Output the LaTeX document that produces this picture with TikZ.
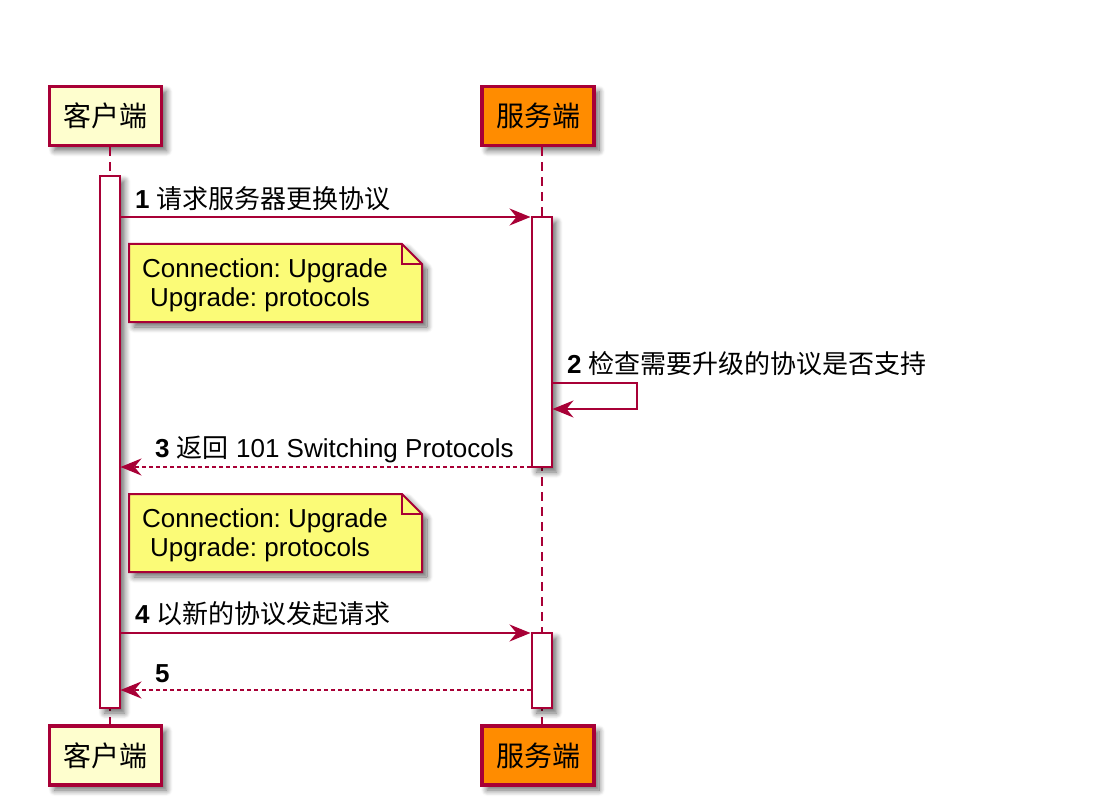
\documentclass[tikz,border=0pt]{standalone}
\usepackage{fontspec}
\setmainfont{Liberation Sans}
\newfontfamily\cjk{Noto Sans CJK SC}
\usetikzlibrary{arrows.meta,shadows.blur}
\frenchspacing
\definecolor{umlred}{HTML}{A80036}
\definecolor{cfill}{HTML}{FEFECE}
\definecolor{sfill}{HTML}{FF8C00}
\definecolor{notefill}{HTML}{FBFB77}
\tikzset{
  shd/.style={blur shadow={shadow xshift=5pt, shadow yshift=-5pt, shadow blur radius=6pt, shadow blur steps=10, shadow opacity=60}},
  part/.style={draw=umlred, line width=3.2pt, minimum width=112, minimum height=59, inner sep=0pt, shd,
    font=\cjk\fontsize{28}{32}\selectfont},
  actbar/.style={draw=umlred, fill=white, line width=2pt, minimum width=20, inner sep=0pt, shd},
  lifeline/.style={draw=umlred, line width=2pt, dash pattern=on 9pt off 6pt},
  msg/.style={draw=umlred, line width=2pt, -{Stealth[length=21pt,width=17pt,inset=7pt]}},
  ret/.style={msg, dash pattern=on 4pt off 3pt},
  lbl/.style={anchor=base west, inner sep=0pt, font=\fontsize{26}{30}\selectfont},
  notebox/.style={draw=umlred, fill=notefill, line width=2pt, shd},
  notefold/.style={draw=umlred, line width=2pt},
  notetxt/.style={anchor=base west, inner sep=0pt, font=\fontsize{26}{30}\selectfont}
}
\begin{document}
\begin{tikzpicture}[x=1pt,y=-1pt]
\useasboundingbox (0,0) rectangle (1094,810);
% participants
\node[part, fill=cfill] (ctop) at (105.5,116) {客户端};
\node[part, fill=sfill] (stop) at (538,116) {服务端};
\node[part, fill=cfill] (cbot) at (105.5,755.5) {客户端};
\node[part, fill=sfill] (sbot) at (538,755.5) {服务端};
% lifelines
\draw[lifeline] ([xshift=4.5pt]ctop.south) -- ([xshift=4.5pt]cbot.north);
\draw[lifeline] ([xshift=3.5pt]stop.south) -- ([xshift=3.5pt]sbot.north);
% activation bars
\node[actbar, minimum height=532] (cact) at (109.5,442) {};
\node[actbar, minimum height=250] (sact1) at (541.5,342) {};
\node[actbar, minimum height=75] (sact2) at (541.5,670.5) {};
% message y positions
\coordinate (y1) at (0,217);
\coordinate (y2a) at (0,383);
\coordinate (y2b) at (0,409);
\coordinate (y3) at (0,467);
\coordinate (y4) at (0,633);
\coordinate (y5) at (0,690);
% messages
\draw[msg] (cact.east |- y1) -- (sact1.west |- y1);
\node[lbl] (l1) at (135,209) {\textbf{1} {\cjk 请求服务器更换协议}};
\draw[msg] (sact1.east |- y2a) -- ++(84,0) -- ++(0,26) -- (sact1.east |- y2b);
\node[lbl] (l2) at (567,373) {\textbf{2} {\cjk 检查需要升级的协议是否支持}};
\draw[ret] (sact1.west |- y3) -- (cact.east |- y3);
\node[lbl] (l3) at (155,457) {\textbf{3} {\cjk 返回} 101 Switching Protocols};
\draw[msg] (cact.east |- y4) -- (sact2.west |- y4);
\node[lbl] (l4) at (135,623) {\textbf{4} {\cjk 以新的协议发起请求}};
\draw[ret] (sact2.west |- y5) -- (cact.east |- y5);
\node[lbl] (l5) at (155,682) {\textbf{5}};
% note 1
\draw[notebox] (129,244) -- (402,244) -- (422,264) -- (422,322) -- (129,322) -- cycle;
\draw[notefold] (402,244) -- (402,264) -- (422,264);
\node[notetxt] (n1a) at (142,277) {Connection: Upgrade};
\node[notetxt] (n1b) at (150,306) {Upgrade: protocols};
% note 2
\draw[notebox] (129,494) -- (402,494) -- (422,514) -- (422,572) -- (129,572) -- cycle;
\draw[notefold] (402,494) -- (402,514) -- (422,514);
\node[notetxt] (n2a) at (142,527) {Connection: Upgrade};
\node[notetxt] (n2b) at (150,556) {Upgrade: protocols};
\end{tikzpicture}
\end{document}
